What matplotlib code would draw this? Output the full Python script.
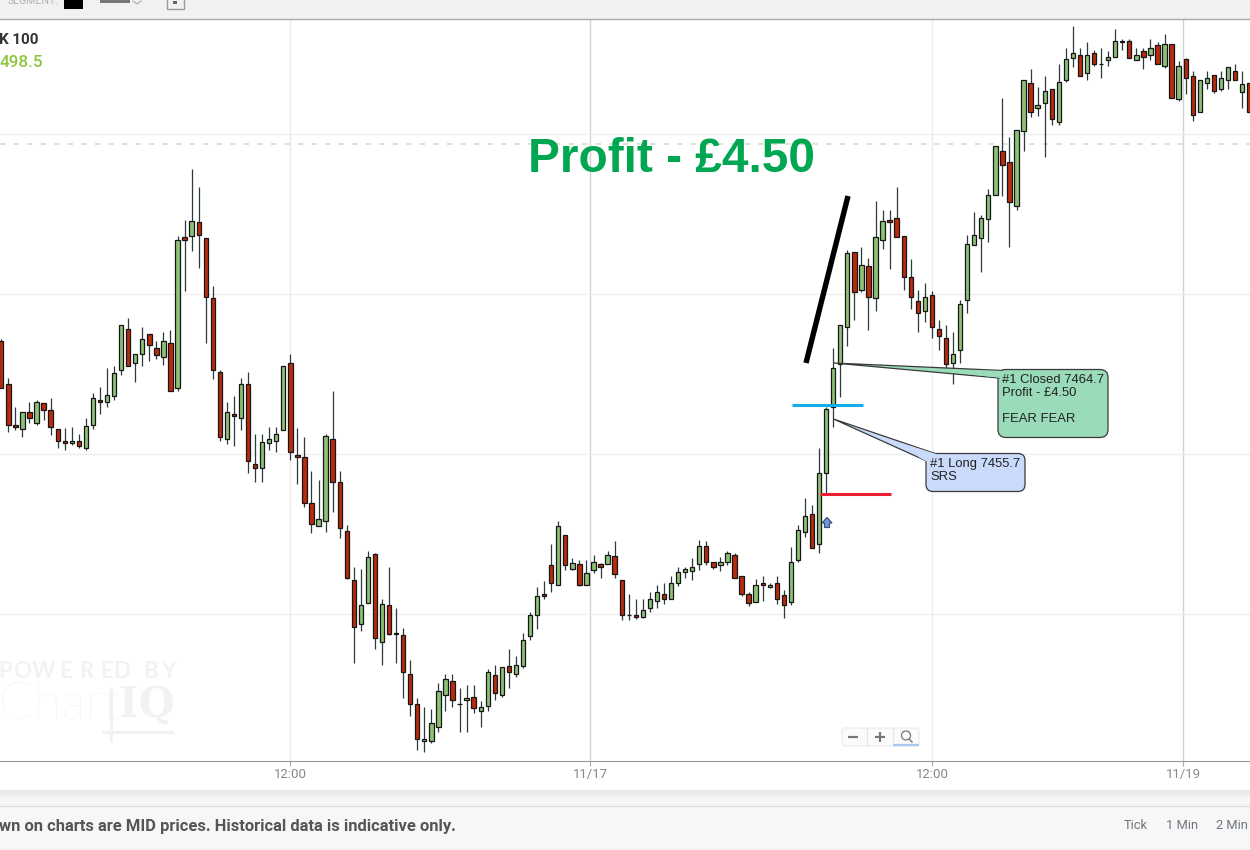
import matplotlib
matplotlib.use("Agg")
import matplotlib.pyplot as plt
import numpy as np
from matplotlib.patches import FancyBboxPatch, Polygon, Rectangle, Circle

W, H = 1250, 850
BASE = 7400  # prices below are points above this level

body_top = [
    67.6, 60.9, 54.5, 56.5, 56.5, 58.1, 57.9, 56.8, 53.9, 52.0,
    52.1, 52.1, 54.3, 58.7, 58.5, 59.2, 62.6, 70.1, 69.6, 65.7,
    67.9, 68.7, 66.5, 67.6, 67.3, 83.5, 83.9, 86.4, 86.2, 83.7,
    74.3, 62.8, 56.5, 56.2, 60.9, 60.9, 48.4, 51.8, 52.3, 53.1,
    63.7, 64.2, 49.9, 49.5, 42.4, 39.8, 52.8, 52.4, 45.6, 37.9,
    30.3, 26.4, 33.9, 34.3, 26.5, 26.4, 22.1, 21.7, 15.7, 10.9,
    5.4, 7.9, 12.9, 14.9, 14.6, 11.0, 11.8, 12.1, 10.4, 15.9,
    15.4, 16.7, 16.8, 17.0, 21.0, 24.9, 27.8, 28.1, 32.6, 38.7,
    37.4, 32.9, 32.8, 31.4, 33.1, 32.8, 34.2, 34.0, 30.3, 24.9,
    24.9, 25.6, 27.4, 28.4, 28.2, 29.9, 31.5, 32.0, 32.4, 35.7,
    35.7, 33.1, 33.1, 34.5, 34.2, 30.9, 28.1, 29.6, 29.9, 29.6,
    29.9, 27.9, 33.2, 38.1, 40.3, 40.6, 47.0, 57.0, 63.5, 70.1,
    81.4, 81.5, 79.5, 79.3, 83.9, 86.4, 86.5, 86.8, 84.0, 77.6,
    73.9, 74.6, 74.8, 69.6, 68.2, 65.7, 73.5, 82.8, 84.2, 86.8,
    90.4, 98.1, 97.4, 95.6, 100.7, 108.4, 107.9, 104.5, 106.7, 107.0,
    108.1, 111.7, 112.6, 112.3, 112.4, 112.6, 111.0, 112.0, 114.5, 114.6,
    114.5, 112.4, 112.9, 113.5, 113.9, 114.0, 114.0, 110.6, 111.7, 109.0,
    108.4, 108.7, 109.2, 108.7, 110.4, 109.9, 107.8, 107.9,
]
body_bottom = [
    60.3, 54.5, 54.2, 53.9, 55.6, 54.9, 56.8, 54.2, 52.1, 51.7,
    51.7, 51.2, 51.0, 54.5, 58.2, 58.1, 59.0, 63.2, 63.7, 64.2,
    65.6, 67.0, 65.4, 65.1, 59.8, 60.3, 83.5, 84.0, 84.2, 74.5,
    63.1, 52.6, 52.3, 55.9, 55.6, 48.9, 47.8, 47.8, 51.7, 52.0,
    53.7, 50.3, 49.6, 42.4, 39.0, 38.7, 39.5, 45.6, 38.5, 30.6,
    22.9, 23.4, 26.7, 21.2, 20.7, 21.8, 21.8, 16.0, 11.0, 5.4,
    5.1, 5.1, 7.4, 12.4, 11.5, 11.0, 11.5, 10.3, 9.9, 10.7,
    12.6, 12.3, 16.0, 15.7, 16.8, 21.5, 24.8, 27.8, 29.8, 29.6,
    32.6, 32.1, 29.5, 29.6, 31.8, 32.3, 32.8, 31.2, 24.9, 24.9,
    24.6, 24.6, 26.0, 27.1, 27.3, 27.4, 29.9, 31.5, 31.7, 32.8,
    33.1, 32.4, 32.6, 33.1, 30.7, 28.2, 26.7, 26.8, 29.5, 29.2,
    27.4, 26.4, 26.8, 33.5, 37.8, 35.3, 35.9, 47.0, 57.3, 64.0,
    69.8, 75.3, 75.7, 74.5, 74.3, 83.4, 86.2, 83.9, 77.6, 74.5,
    72.0, 72.3, 69.9, 68.5, 64.0, 64.2, 66.2, 74.0, 82.6, 83.7,
    86.7, 90.4, 95.1, 89.3, 88.7, 100.4, 103.5, 104.0, 104.8, 102.4,
    101.8, 108.4, 111.8, 109.0, 109.5, 111.0, 111.0, 111.5, 112.1, 114.3,
    111.8, 111.5, 112.0, 112.4, 111.0, 110.6, 105.6, 105.4, 108.7, 102.9,
    103.4, 107.9, 106.7, 107.1, 108.4, 108.4, 106.5, 103.5,
]
highs = [
    67.9, 61.8, 57.4, 56.5, 58.1, 58.5, 57.9, 58.7, 53.9, 54.0,
    54.2, 53.1, 55.6, 59.5, 60.4, 63.5, 63.7, 70.1, 71.2, 65.7,
    69.9, 68.7, 67.6, 69.0, 69.3, 84.0, 86.5, 94.5, 91.7, 83.7,
    76.2, 63.1, 58.1, 59.0, 61.8, 62.8, 53.1, 53.1, 54.2, 54.2,
    63.7, 65.7, 54.0, 52.6, 47.3, 45.9, 53.2, 59.9, 47.4, 38.9,
    32.3, 32.1, 34.9, 34.6, 27.4, 32.4, 26.0, 22.8, 17.8, 11.8,
    10.4, 10.1, 14.2, 15.6, 15.6, 13.4, 13.9, 13.9, 11.4, 16.4,
    17.1, 16.7, 19.5, 18.5, 22.0, 25.3, 29.2, 30.1, 35.9, 39.5,
    37.4, 33.7, 33.4, 33.4, 34.2, 32.9, 34.9, 36.4, 30.3, 28.1,
    27.4, 27.4, 28.4, 29.5, 29.8, 31.0, 32.4, 32.4, 33.7, 36.5,
    36.4, 33.2, 33.9, 34.8, 34.5, 30.9, 28.4, 30.4, 30.9, 29.8,
    31.0, 28.7, 35.4, 38.9, 43.1, 42.1, 51.0, 57.4, 66.5, 70.1,
    81.8, 81.5, 82.4, 80.7, 89.6, 88.1, 88.1, 91.7, 84.0, 80.4,
    75.7, 76.7, 75.4, 70.9, 70.1, 69.0, 74.0, 84.2, 87.8, 87.4,
    91.4, 98.1, 105.7, 99.6, 100.7, 108.5, 110.1, 107.3, 109.0, 107.0,
    110.9, 113.4, 116.8, 113.4, 114.3, 113.1, 113.4, 112.9, 116.4, 114.9,
    114.9, 113.4, 113.4, 114.9, 114.3, 115.6, 114.0, 111.4, 111.8, 109.8,
    108.4, 109.9, 109.2, 109.9, 110.4, 110.9, 109.8, 107.9,
]
lows = [
    60.3, 53.4, 53.7, 52.6, 54.9, 54.5, 55.3, 52.9, 50.9, 50.6,
    51.4, 50.9, 50.6, 53.9, 56.2, 57.3, 58.4, 62.4, 63.7, 61.2,
    63.7, 64.5, 64.8, 63.9, 59.8, 59.8, 75.4, 81.7, 79.0, 67.3,
    61.7, 52.0, 51.5, 51.2, 53.7, 47.0, 45.6, 45.7, 50.6, 50.3,
    53.7, 49.0, 45.3, 41.7, 37.6, 38.7, 37.8, 40.9, 36.8, 30.4,
    17.4, 22.3, 26.7, 19.6, 17.0, 21.7, 17.3, 11.8, 9.0, 3.7,
    3.4, 4.8, 6.5, 9.9, 10.4, 6.5, 6.5, 9.5, 7.4, 9.9,
    11.5, 12.1, 13.5, 15.1, 16.5, 21.0, 22.6, 27.3, 28.5, 29.5,
    31.8, 31.8, 29.3, 29.5, 31.4, 30.6, 32.8, 30.7, 24.0, 24.0,
    24.2, 24.3, 25.3, 26.0, 26.5, 27.4, 29.3, 30.6, 30.3, 31.8,
    32.6, 32.1, 31.7, 32.6, 30.7, 27.8, 26.2, 26.8, 27.1, 29.0,
    26.5, 24.3, 26.4, 33.1, 37.0, 35.3, 34.6, 43.7, 54.2, 58.9,
    66.8, 70.9, 75.3, 69.3, 72.3, 82.1, 78.9, 83.9, 75.6, 72.6,
    69.0, 70.6, 68.1, 66.2, 63.2, 61.0, 64.2, 72.0, 82.6, 78.4,
    83.1, 90.4, 90.3, 82.3, 88.1, 97.4, 102.6, 102.8, 96.4, 101.4,
    101.4, 108.1, 110.4, 109.0, 108.5, 110.6, 108.7, 110.6, 112.1, 113.1,
    111.8, 111.5, 110.1, 111.5, 111.0, 110.3, 105.6, 105.1, 106.2, 102.0,
    103.4, 107.1, 106.4, 106.7, 107.1, 108.4, 104.0, 103.5,
]
direction = (
    "RRRGRGRRRR" "GRGGRGGGRG" "GRRGRGRGRR" "RRGRGRRGGG" "GRRRRGGRRR"
    "RGGRGRRRRR" "GGGGRGGRGG" "RGRGGGGRRG" "RGRGGRGRRG" "RGGGRGGGGG"
    "RRGGRRRGRG" "RRGGGRGGGG" "GRGRGGRRRR" "RGRRRGGGGG" "GGRRGGRGGR"
    "GGGRGRGGGR" "RGRGRGRGRR" "GGRGGRGR"
)
price_levels = [7425, 7450, 7475, 7500]
current_price = 7498.5
time_ticks = [41, 83.55, 132.05, 167.65]
time_labels = ["12:00", "11/17", "12:00", "11/19"]
day_tick = [False, True, False, True]

plt.rcParams["font.family"] = ["Roboto", "DejaVu Sans"]

fig = plt.figure(figsize=(W / 100, H / 100), dpi=100, facecolor="white")


def px_axes(top, bottom):
    return [0, 1 - bottom / H, 1, (bottom - top) / H]


# price chart
ax = fig.add_axes(px_axes(19.5, 761), zorder=1)
ax.set_xlim(-0.184, 177.12)
ax.set_ylim(BASE + 2.03, BASE + 117.89)
ax.set_facecolor("white")

top = BASE + np.array(body_top)
bottom = BASE + np.array(body_bottom)
hi = BASE + np.array(highs)
lo = BASE + np.array(lows)
idx = np.arange(len(top))
colors = ["#8cc176" if d == "G" else "#b92b0a" for d in direction]

ax.set_yticks(price_levels)
ax.set_yticklabels([])
ax.tick_params(axis="y", length=0)
ax.grid(axis="y", color="#eeeeee", lw=1, zorder=0)
ax.set_axisbelow(True)
for pos, is_day in zip(time_ticks, day_tick):
    ax.axvline(pos, color="#d2d2d2" if is_day else "#ececec", lw=1, zorder=0)
ax.axhline(current_price, color="#d3e4cd", lw=1.3, dashes=(3, 4.5), zorder=1)

ax.vlines(idx, lo, hi, color="#2b3a3a", lw=0.9, zorder=2)
ax.bar(idx, top - bottom, bottom=bottom, width=0.62, color=colors,
       edgecolor="#161616", linewidth=0.9, zorder=3)

for side in ["top", "left", "right"]:
    ax.spines[side].set_visible(False)
ax.spines["bottom"].set_color("#999999")
ax.set_xticks(time_ticks)
ax.set_xticklabels(time_labels)
ax.tick_params(axis="x", length=3.8, width=0.8, color="#aaaaaa", labelcolor="#888888",
               labelsize=9.5, pad=1.2)

# page furniture and drawings, in pixels of the screenshot
ov = fig.add_axes([0, 0, 1, 1], zorder=2)
ov.set_xlim(0, W)
ov.set_ylim(H, 0)
ov.axis("off")
ov.patch.set_alpha(0)

ov.add_patch(Rectangle((0, 0), W, 19, color="#f0f1f1", lw=0))
ov.plot([0, W], [19.3, 19.3], color="#aaaaaa", lw=1)
ov.text(8, 1, "SEGMENT:", color="#b8b0a8", fontsize=7.6, va="center", ha="left", clip_on=True)
ov.add_patch(Rectangle((64, 0), 19, 9, color="black", lw=0))
ov.add_patch(Rectangle((100, 0), 30, 3, color="#777777", lw=0))
ov.plot([133, 137, 141], [1, 4, 1], color="#aaaaaa", lw=0.8)
ov.add_patch(Rectangle((166.5, -2), 17, 10.5, fill=False, ec="#999999", lw=1))
ov.add_patch(Rectangle((173, 1), 4, 3, color="#666666", lw=0))

ov.text(-1, 40, "K 100", color="#333333", fontsize=10.9, fontweight="bold", va="center", ha="left")
ov.text(-1, 62.5, "498.5", color="#8cc63f", fontsize=12.3, fontweight="medium", va="center", ha="left")

# watermark
wm = "#f2f2f2"
wm_letters = "POWEREDBY"
wm_centers = [5, 22, 44, 66, 86, 107, 122, 151, 168]
for x, s in zip(wm_centers, wm_letters):
    ov.text(x, 672, s, color=wm, fontsize=16, fontweight="bold", family="Lato", va="center", ha="center")
ov.text(-2, 705, "Chart", color="#f0f0f0", fontsize=37, fontweight="light", family="Lato",
        va="center", ha="left")
ov.text(119, 705, "IQ", color=wm, fontsize=30, fontweight="bold", family="DejaVu Serif", va="center", ha="left")
ov.plot([111, 111], [688, 742], color=wm, lw=2.2, solid_capstyle="butt")
ov.plot([101, 174], [731.5, 731.5], color=wm, lw=2.2, solid_capstyle="butt")

# zoom widget
ov.add_patch(FancyBboxPatch((842, 728), 77, 18, boxstyle="round,pad=0,rounding_size=3",
                            fc="#fbfbfb", ec="#eeeeee", lw=1))
ov.plot([848, 858], [737, 737], color="#777777", lw=1.6, solid_capstyle="butt")
ov.plot([875, 885], [737, 737], color="#777777", lw=1.6, solid_capstyle="butt")
ov.plot([880, 880], [732, 742], color="#777777", lw=1.6, solid_capstyle="butt")
ov.plot([866.5, 866.5], [729, 745], color="#e6e6e6", lw=0.8)
ov.plot([892.5, 892.5], [729, 745], color="#e6e6e6", lw=0.8)
ov.add_patch(Circle((906, 735.5), 4.5, fill=False, ec="#777777", lw=0.9))
ov.plot([909, 912], [739, 742], color="#777777", lw=1)
ov.plot([893, 919], [745, 745], color="#a8c8f0", lw=1.6, solid_capstyle="butt")

# hand drawn lines
ov.plot([806, 848], [363, 196], color="black", lw=3.9, solid_capstyle="butt")
ov.plot([792, 863], [404.5, 404.5], color="#12aeea", lw=2.2, solid_capstyle="butt", zorder=4)
ov.plot([820, 891], [494, 494], color="#ea2030", lw=2.2, solid_capstyle="butt", zorder=4)
ov.text(672, 159.5, "Profit - £4.50", color="#00a651", fontsize=34.4, fontweight="bold",
        family="Liberation Sans", va="center", ha="center")

# trade callouts
ov.add_patch(FancyBboxPatch((998, 369.5), 110, 68, boxstyle="round,pad=0,rounding_size=8",
                            fc="#9adcb9", ec="#3a3a3a", lw=0.9, zorder=5))
ov.add_patch(Polygon([(833.5, 363), (1003, 370.5), (999, 378)], closed=True,
                     fc="#9adcb9", ec="#3a3a3a", lw=0.9, zorder=5))
ov.add_patch(Polygon([(930, 369.9), (1006, 370.9), (1000.5, 378), (996, 377.4)], closed=True,
                     fc="#9adcb9", ec="none", zorder=6))
ov.add_patch(FancyBboxPatch((926, 453.5), 99, 38, boxstyle="round,pad=0,rounding_size=7",
                            fc="#c9dafa", ec="#3a3a3a", lw=0.9, zorder=5))
ov.add_patch(Polygon([(833.5, 419), (935, 453.5), (926.5, 461)], closed=True,
                     fc="#c9dafa", ec="#3a3a3a", lw=0.9, zorder=5))
ov.add_patch(Polygon([(900, 442.6), (938, 454.6), (927.6, 462), (920, 458)], closed=True,
                     fc="#c9dafa", ec="none", zorder=6))
for y, s in zip([380, 393, 419], ["#1 Closed 7464.7", "Profit - £4.50", "FEAR FEAR"]):
    ov.text(1002, y, s, color="#222222", fontsize=9.4, family="Liberation Sans", va="center", ha="left", zorder=7)
for y, s in zip([464, 477], ["#1 Long 7455.7", "SRS"]):
    ov.text(930, y, s, color="#222222", fontsize=9.4, family="Liberation Sans", va="center", ha="left", zorder=7)

# entry arrow
ov.add_patch(Polygon([(827, 517.5), (832, 523), (829.5, 523), (829.5, 527.5), (824.5, 527.5),
                      (824.5, 523), (822, 523)], closed=True, fc="#6f96e0", ec="#3d4f7a", lw=0.9))

# footer
ov.add_patch(Rectangle((0, 790), W, 60, color="#f5f5f5", lw=0))
for i, shade in enumerate(np.linspace(0.90, 0.96, 8)):
    ov.add_patch(Rectangle((0, 790 + i), W, 1, color=str(shade), lw=0))
ov.add_patch(Rectangle((0, 805), W, 44, color="#f7f7f7", lw=0))
ov.plot([0, W], [805.5, 805.5], color="#dedede", lw=1)
ov.plot([0, W], [849.5, 849.5], color="#e6e6e6", lw=1)
ov.text(-1, 826, "wn on charts are MID prices. Historical data is indicative only.", color="#555555",
        fontsize=11.9, fontweight="bold", va="center", ha="left")
for x, s in zip([1135.5, 1182, 1231.5], ["Tick", "1 Min", "2 Min"]):
    ov.text(x, 825.5, s, color="#6d7580", fontsize=9.3, va="center", ha="center")

fig.savefig("out.png", dpi=100)
